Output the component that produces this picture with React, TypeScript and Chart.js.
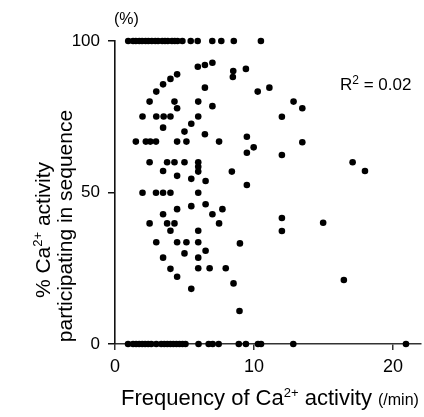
import React, { useEffect, useRef } from "react";
import { Chart, registerables } from "chart.js";

Chart.register(...registerables);

const xTickValues = [0, 10, 20];
const yTickValues = [0, 50, 100];

// cells with 100 % participation
const fullFreq = [0.95, 1.3, 1.5, 1.75, 1.95, 2.2, 2.4, 2.65, 2.9, 3.1, 3.4, 3.6, 3.8, 4.1, 4.3, 4.5, 4.85, 5.45, 5.95, 7.0, 7.65, 8.55, 10.5];
// cells with 0 % participation
const zeroFreq = [0.94, 1.3, 1.52, 1.74, 1.96, 2.17, 2.39, 2.61, 2.97, 3.33, 3.55, 3.77, 3.99, 4.2, 4.42, 4.64, 4.86, 5.07, 6.01, 6.74, 7.03, 7.46, 8.91, 9.42, 10.29, 10.51, 12.83, 20.94];
// other cells
const midFreq = [
  5.96, 6.47, 7.01, 8.51, 8.48, 9.42, 4.47, 3.99, 3.46, 2.97, 2.49, 6.47, 4.28, 4.47, 5.99, 7.01,
  1.98, 2.97, 3.5, 3.99, 5.99, 5.49, 3.46, 5.0, 6.47, 1.5, 2.22, 2.54, 2.95, 4.47, 5.14, 7.49,
  9.49, 9.98, 9.49, 2.49, 3.75, 4.28, 5.0, 5.99, 5.99, 5.99, 3.46, 8.41, 4.47, 5.49, 6.52, 9.49,
  1.98, 2.95, 3.46, 3.99, 5.99, 5.49, 6.52, 4.47, 7.73, 3.46, 7.01, 2.49, 3.75, 4.28, 7.49, 3.99,
  5.99, 2.97, 4.47, 5.14, 5.99, 8.99, 6.52, 5.0, 3.46, 5.99, 3.99, 5.99, 6.81, 7.97, 4.47, 8.53,
  5.49, 8.96, 10.27, 11.11, 12.85, 13.48, 12.01, 13.48, 12.01, 17.1, 17.99, 12.01, 12.01, 14.98, 16.47,
];
const midPct = [
  91.5, 92.1, 92.8, 90.1, 88.1, 90.8, 89.0, 87.5, 85.7, 83.3, 80.0, 84.6, 80.0, 77.8, 80.0, 78.5,
  75.1, 75.1, 75.1, 75.1, 75.1, 72.7, 71.4, 70.1, 69.2, 66.8, 66.8, 66.8, 66.8, 66.8, 66.8, 66.8,
  68.4, 64.9, 63.1, 60.0, 60.0, 60.0, 60.0, 60.0, 58.5, 56.9, 57.1, 56.9, 55.5, 54.5, 53.8, 52.5,
  49.9, 49.9, 49.9, 49.9, 49.9, 45.5, 46.1, 44.5, 44.5, 42.8, 42.8, 39.8, 39.8, 39.8, 39.8, 37.4,
  37.4, 33.6, 33.6, 33.6, 33.6, 33.2, 30.8, 29.9, 28.5, 28.5, 24.8, 25.0, 25.0, 25.0, 22.2, 20.0,
  18.2, 10.9, 83.3, 84.6, 80.0, 77.8, 75.0, 66.6, 62.4, 60.0, 57.1, 41.6, 37.3, 40.0, 21.1,
];

const FONT = '"Liberation Sans", Arial, sans-serif';

type Run = { t: string; s: number; dy?: number };

function drawRuns(ctx: CanvasRenderingContext2D, runs: Run[], x: number, y: number, align: "left" | "center") {
  let total = 0;
  const widths = runs.map((r) => {
    ctx.font = `${r.s}px ${FONT}`;
    const w = ctx.measureText(r.t).width;
    total += w;
    return w;
  });
  let cx = align === "center" ? x - total / 2 : x;
  ctx.textAlign = "left";
  ctx.textBaseline = "alphabetic";
  runs.forEach((r, i) => {
    ctx.font = `${r.s}px ${FONT}`;
    ctx.fillText(r.t, cx, y + (r.dy || 0));
    cx += widths[i];
  });
}

const textPlugin = {
  id: "customTexts",
  afterDraw(chart: any) {
    const ctx: CanvasRenderingContext2D = chart.ctx;
    ctx.save();
    ctx.fillStyle = "#000";
    drawRuns(ctx, [{ t: "(%)", s: 16 }], 114, 24, "left");
    drawRuns(ctx, [{ t: "R", s: 17 }, { t: "2", s: 12, dy: -6 }, { t: " = 0.02", s: 17 }], 340, 90, "left");
    drawRuns(
      ctx,
      [
        { t: "Frequency of Ca", s: 22 },
        { t: "2+", s: 13, dy: -8 },
        { t: " activity ", s: 22 },
        { t: "(/min)", s: 16 },
      ],
      270,
      405,
      "center"
    );
    ctx.save();
    ctx.translate(42, 230);
    ctx.rotate(-Math.PI / 2);
    drawRuns(ctx, [{ t: "% Ca", s: 21 }, { t: "2+", s: 13, dy: -8 }, { t: " activity", s: 21 }], 0, 8, "center");
    ctx.restore();
    ctx.save();
    ctx.translate(64, 226);
    ctx.rotate(-Math.PI / 2);
    drawRuns(ctx, [{ t: "participating in sequence", s: 21 }], 0, 8, "center");
    ctx.restore();
    ctx.restore();
  },
};

export default function App() {
  const canvasRef = useRef<HTMLCanvasElement | null>(null);

  useEffect(() => {
    document.body.style.margin = "0";
    const canvas = canvasRef.current;
    if (!canvas) return;
    const points = [
      ...fullFreq.map((x) => ({ x, y: 100 })),
      ...zeroFreq.map((x) => ({ x, y: 0 })),
      ...midFreq.map((x, i) => ({ x, y: midPct[i] })),
    ];
    const chart = new Chart(canvas, {
      type: "scatter",
      data: {
        datasets: [
          {
            data: points,
            backgroundColor: "#000",
            borderColor: "#000",
            borderWidth: 0,
            pointRadius: 3.3,
            pointHoverRadius: 3.3,
            clip: false as any,
          },
        ],
      },
      options: {
        animation: false,
        responsive: false,
        maintainAspectRatio: false,
        layout: { padding: { left: 0, top: 41, right: 3, bottom: 0 } },
        plugins: { legend: { display: false }, tooltip: { enabled: false } },
        scales: {
          x: {
            type: "linear",
            min: 0,
            max: 22,
            afterBuildTicks: (scale: any) => {
              scale.ticks = xTickValues.map((v) => ({ value: v }));
            },
            afterFit: (scale: any) => {
              scale.height = 73;
            },
            border: { display: true, color: "#333", width: 1.6 },
            grid: { display: true, drawOnChartArea: false, drawTicks: true, tickLength: 6, color: "#333", lineWidth: 1.5 },
            ticks: { color: "#000", font: { size: 18, family: FONT }, padding: 6, maxRotation: 0 },
          },
          y: {
            type: "linear",
            min: 0,
            max: 100,
            afterBuildTicks: (scale: any) => {
              scale.ticks = yTickValues.map((v) => ({ value: v }));
            },
            afterFit: (scale: any) => {
              scale.width = 115;
            },
            border: { display: true, color: "#111", width: 1.6 },
            grid: { display: true, drawOnChartArea: false, drawTicks: true, tickLength: 7, color: "#111", lineWidth: 1.5 },
            ticks: { color: "#000", font: { size: 17, family: FONT }, padding: 8 },
          },
        },
      },
      plugins: [textPlugin],
    });
    return () => chart.destroy();
  }, []);

  return <canvas ref={canvasRef} width={424} height={417} style={{ display: "block" }} />;
}
